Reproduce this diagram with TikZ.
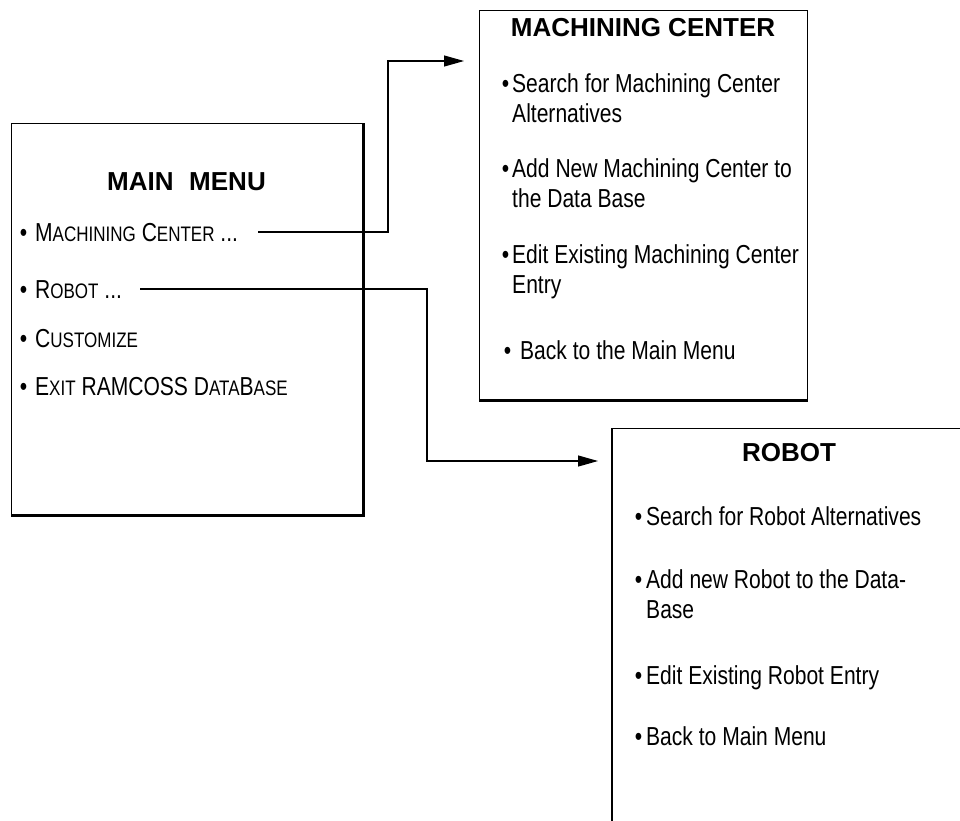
\documentclass[tikz,border=0pt]{standalone}
\usepackage{fontspec}
\setmainfont{Liberation Sans}
\newfontfamily\itemfont[FakeStretch=0.81]{Liberation Sans}
\usetikzlibrary{arrows.meta}
\newcommand\scp[2]{#1{\fontsize{21}{24}\selectfont #2}}
\newcommand\bul[1]{\leavevmode\llap{•\hspace{#1}}}
\begin{document}
\begin{tikzpicture}[x=1pt,y=-1pt,
  boxx/.style={draw, line width=1.3pt, inner sep=0pt, anchor=north west},
  ttl/.style={font=\fontsize{26}{30}\selectfont\bfseries, anchor=base, inner sep=0pt},
  mitem/.style={font=\itemfont\fontsize{26}{30}\selectfont, anchor=west, inner sep=0pt, text height=18.6pt, text depth=0pt},
  litem/.style={font=\itemfont\fontsize{26}{30}\selectfont, anchor=base west, inner sep=0pt},
  conn/.style={line width=1.1pt, -{Triangle[length=20pt,width=11pt]}},
  heavy/.style={line width=3pt}]
\fill[white] (0,0) rectangle (960,820);
\useasboundingbox (0,0) rectangle (960,820);

% main menu box
\node[boxx, minimum width=351pt, minimum height=391pt] (main) at (11,123) {};
\draw[heavy] (main.north east) -- (main.south east) -- (main.south west);
\node[ttl] (mtitle) at (186.5,190) {MAIN\hspace{0.6em}MENU};
\node[mitem] (mmc) at (35,232) {\bul{8pt}\scp{M}{ACHINING} \scp{C}{ENTER} ...};
\node[mitem] (mrb) at (35,289) {\bul{8pt}\scp{R}{OBOT} ...};
\node[mitem] (mcu) at (35,338) {\bul{8pt}\scp{C}{USTOMIZE}};
\node[mitem] (mex) at (35,386) {\bul{8pt}\scp{E}{XIT} RAMCOSS \scp{D}{ATA}\scp{B}{ASE}};

% machining center box
\node[boxx, minimum width=328pt, minimum height=389pt] (mcbox) at (479,10) {};
\draw[line width=2.5pt] (mcbox.south west) -- (mcbox.south east);
\node[ttl] (mctitle) at (643,36) {MACHINING CENTER};
\node[litem] (mc1) at (512,92) {\parbox[t]{290pt}{\raggedright\bul{3pt}Search for Machining Center\\Alternatives}};
\node[litem] (mc2) at (512,177) {\parbox[t]{290pt}{\raggedright\bul{3pt}Add New Machining Center to\\the Data Base}};
\node[litem] (mc3) at (512,263) {\parbox[t]{290pt}{\raggedright\bul{3pt}Edit Existing Machining Center\\Entry}};
\node[litem] (mc4) at (520,359) {\bul{9pt}Back to the Main Menu};

% robot box
\node[boxx, minimum width=360pt, minimum height=420pt] (rbbox) at (612,428) {};
\draw[line width=2.2pt] (rbbox.north west) -- (rbbox.south west);
\node[ttl] (rbtitle) at (789,461) {ROBOT};
\node[litem] (rb1) at (646,525) {\bul{4pt}Search for Robot Alternatives};
\node[litem] (rb2) at (646,588) {\parbox[t]{300pt}{\raggedright\bul{4pt}Add new Robot to the Data-\\Base}};
\node[litem] (rb3) at (646,684) {\bul{4pt}Edit Existing Robot Entry};
\node[litem] (rb4) at (646,745) {\bul{4pt}Back to Main Menu};

% connectors
\coordinate (k1) at (388,61);
\draw[conn, shorten >=15pt] ([xshift=20pt]mmc.east) -| (k1) -- (k1 -| mcbox.west);
\coordinate (k2) at (427,461);
\draw[conn, shorten >=14pt] ([xshift=18pt]mrb.east) -| (k2) -- (k2 -| rbbox.west);
\end{tikzpicture}
\end{document}
